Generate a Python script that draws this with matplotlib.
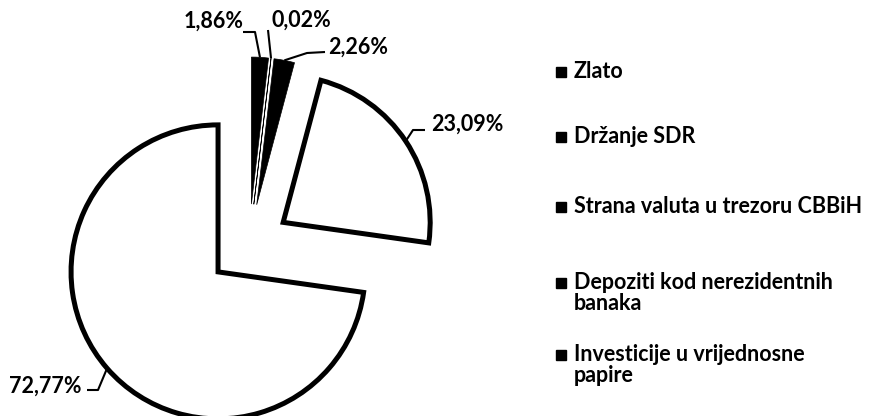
import numpy as np
import matplotlib.pyplot as plt
from matplotlib.lines import Line2D

# data
labels = ['Zlato', 'Držanje SDR', 'Strana valuta u trezoru CBBiH',
          'Depoziti kod nerezidentnih\nbanaka', 'Investicije u vrijednosne\npapire']
shares = [1.86, 0.02, 2.26, 23.09, 72.77]
pct_text = ['1,86%', '0,02%', '2,26%', '23,09%', '72,77%']
colors = ['black', 'black', 'black', 'white', 'white']

W, H = 870, 416
plt.rcParams['font.family'] = ['Lato', 'DejaVu Sans']

fig = plt.figure(figsize=(W / 100, H / 100), dpi=100)
ax = fig.add_axes([0, 0, 1, 1])

R = 147
# explode is in data units here (pixels)
wedges, _ = ax.pie(shares, colors=colors, startangle=90, counterclock=False,
                   radius=R, center=(249, H - 245), explode=[41] * 5,
                   frame=True)
ax.set_xlim(0, W)
ax.set_ylim(0, H)
ax.set_aspect('equal')
ax.axis('off')
for w, c in zip(wedges, colors):
    w.set_edgecolor('black')
    w.set_linewidth(3.6 if c == 'white' else 0.5)
    w.set_joinstyle('miter')

# labels + leader lines (pixel coords: text centre, elbow points)
fs = 15.5
lab_pos = [(214, 21), (301, 20), (358, 47), (467, 124), (45, 386)]
elbows = [[(243, 32), (255, 32)], [(268, 30)], [(325, 52), (307, 53)],
          [(425, 130), (413, 130)], [(87, 390), (98, 390)]]
for w, t, p, el in zip(wedges, pct_text, lab_pos, elbows):
    mid = np.deg2rad((w.theta1 + w.theta2) / 2)
    cx, cy = w.center
    end = (cx + R * np.cos(mid), cy + R * np.sin(mid))
    xs = [e[0] for e in el] + [end[0]]
    ys = [H - e[1] for e in el] + [end[1]]
    ax.plot(xs, ys, color='black', lw=1.5, solid_capstyle='butt')
    ax.text(p[0], H - p[1], t, ha='center', va='center', fontsize=fs,
            fontweight='bold')

# legend
leg_y = [72, 137, 207, 283, 355]
for lab, y in zip(labels, leg_y):
    fig.add_artist(Line2D([561 / W], [1 - y / H], marker='s', color='black',
                          markersize=7, transform=fig.transFigure))
    fig.text(574 / W, 1 - (y - 11) / H, lab, ha='left', va='top',
             fontsize=fs, fontweight='bold', linespacing=1.0)

fig.savefig('out.png', dpi=100)
